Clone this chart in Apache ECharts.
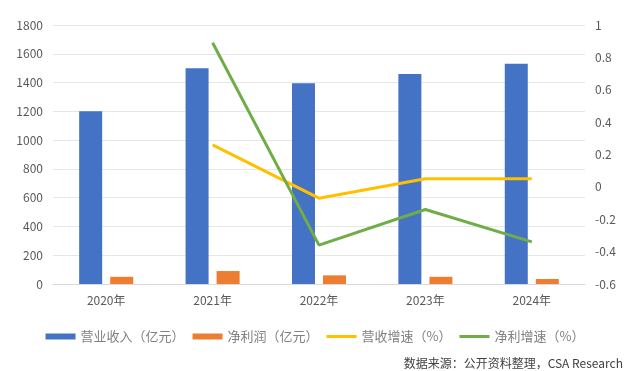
<!DOCTYPE html>
<html><head><meta charset="utf-8">
<script src="https://cdn.jsdelivr.net/npm/echarts@6/dist/echarts.min.js"></script>
<style>html,body{margin:0;padding:0;background:#fff}#c{width:630px;height:371px}</style>
</head><body><div id="c"></div>
<script>
var categories = ['2020年','2021年','2022年','2023年','2024年'];
var revenue = [1200, 1500, 1395, 1460, 1530];
var profit = [50, 90, 60, 50, 35];
var revenueGrowth = [null, 0.26, -0.07, 0.05, 0.05];
var profitGrowth = [null, 0.89, -0.36, -0.14, -0.34];
var seriesNames = ['营业收入（亿元）','净利润（亿元）','营收增速（%）','净利增速（%）'];
var sourceText = '数据来源：公开资料整理，CSA Research';

var font = '"Noto Sans CJK SC", "Noto Sans", sans-serif';
var lineIcon = 'path://M0,0H30V3H0Z';
var chart = echarts.init(document.getElementById('c'));
chart.setOption({
  animation: false,
  textStyle: {fontFamily: font},
  grid: {left: 53, right: 45, top: 25, bottom: 87},
  legend: {
    top: 325, left: 'center', itemWidth: 30, itemHeight: 6, itemGap: 8,
    textStyle: {fontSize: 13, color: '#808080', fontFamily: font},
    data: [
      {name: seriesNames[0], icon: 'rect'},
      {name: seriesNames[1], icon: 'rect'},
      {name: seriesNames[2], icon: lineIcon, symbolKeepAspect: true},
      {name: seriesNames[3], icon: lineIcon, symbolKeepAspect: true}
    ]
  },
  xAxis: {
    type: 'category', data: categories,
    axisLine: {lineStyle: {color: '#d9d9d9'}},
    axisTick: {show: false},
    axisLabel: {color: '#595959', fontSize: 12, margin: 10}
  },
  yAxis: [
    {type: 'value', min: 0, max: 1800, interval: 200,
     axisLine: {show: false}, axisTick: {show: false},
     axisLabel: {color: '#595959', fontSize: 12, margin: 10,
       formatter: function(v){ return String(v); }},
     splitLine: {lineStyle: {color: '#e6e6e6'}}},
    {type: 'value', min: -0.6, max: 1, interval: 0.2,
     axisLine: {show: false}, axisTick: {show: false},
     axisLabel: {color: '#595959', fontSize: 12, margin: 10,
       formatter: function(v){ return String(+v.toFixed(1)); }},
     splitLine: {show: false}}
  ],
  series: [
    {name: seriesNames[0], type: 'bar', data: revenue, barWidth: 23, barGap: '35%',
     itemStyle: {color: '#4472C4'}},
    {name: seriesNames[1], type: 'bar', data: profit, barWidth: 23,
     itemStyle: {color: '#ED7D31'}},
    {name: seriesNames[2], type: 'line', yAxisIndex: 1, data: revenueGrowth,
     symbol: 'none', lineStyle: {color: '#FFC000', width: 3}, itemStyle: {color: '#FFC000'}, z: 5},
    {name: seriesNames[3], type: 'line', yAxisIndex: 1, data: profitGrowth,
     symbol: 'none', lineStyle: {color: '#70AD47', width: 3}, itemStyle: {color: '#70AD47'}, z: 5}
  ],
  graphic: [{
    type: 'text', right: 7, top: 357,
    style: {text: sourceText, fill: '#404040', fontSize: 12, fontFamily: font}
  }]
});
</script></body></html>
